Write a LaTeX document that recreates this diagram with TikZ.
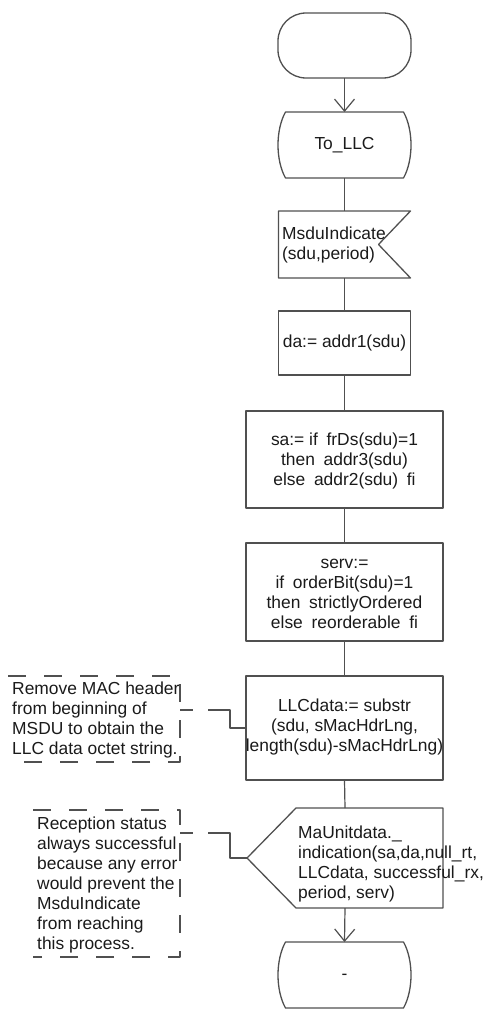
\documentclass[tikz,border=0pt]{standalone}
\usepackage{fontspec}
\setmainfont{Liberation Sans}
\usetikzlibrary{arrows.meta,calc}
\definecolor{lc}{HTML}{505050}
\definecolor{tc}{HTML}{1A1A1A}
\newcommand\wsp{\hskip 0.5em\relax}
\begin{document}
\begin{tikzpicture}[x=1pt,y=-1pt,line join=round,
  shp/.style={draw=lc, line width=1.3pt},
  hid/.style={inner sep=0pt, outer sep=0pt},
  txt/.style={inner sep=0pt, align=center, font=\fontsize{17.4}{20}\selectfont, text=tc},
  ltxt/.style={txt, align=left},
  con/.style={draw=lc, line width=1.2pt},
  arr/.style={con, -{Straight Barb[length=12pt,width=20pt,line width=1.2pt]}},
  cmt/.style={draw=lc, line width=1.2pt, dash pattern=on 18pt off 18pt},
  cmtcon/.style={draw=lc, line width=1.2pt, dash pattern=on 13pt off 15pt on 300pt off 0pt},
]
\useasboundingbox (0,0) rectangle (491,1014);

% start terminator
\node[hid, shp, rounded corners=28pt, minimum width=133pt, minimum height=65pt] (start) at (344.5,45.5) {};

% To_LLC
\node[hid, minimum width=118pt, minimum height=66pt] (tollc) at (344.5,145) {};
\draw[shp] (tollc.north west) -- (tollc.north east)
  .. controls ($(tollc.north east)+(10,18)$) and ($(tollc.south east)+(10,-18)$) .. (tollc.south east)
  -- (tollc.south west)
  .. controls ($(tollc.south west)+(-10,-18)$) and ($(tollc.north west)+(-10,18)$) .. (tollc.north west) -- cycle;
\node[txt] (tollct) at (tollc) {To\_LLC};

% MsduIndicate input
\node[hid, minimum width=132pt, minimum height=67pt] (msdu) at (344.5,244.5) {};
\draw[shp] (msdu.north west) -- (msdu.north east) -- ($(msdu.east)+(-32,0)$) -- (msdu.south east) -- (msdu.south west) -- cycle;
\node[ltxt, anchor=west] (msdut) at (282,245) {MsduIndicate\\(sdu,period)};

% da
\node[hid, shp, minimum width=132pt, minimum height=64pt] (da) at (344.5,343) {};
\node[txt] (dat) at (da) {da:= addr1(sdu)};

% sa
\node[hid, shp, minimum width=197pt, minimum height=97pt] (sa) at (344.5,459.5) {};
\node[txt] (sat) at (344.5,461) {sa:= if\wsp frDs(sdu)=1\\then\wsp addr3(sdu)\\else\wsp addr2(sdu)\wsp fi};

% serv
\node[hid, shp, minimum width=197pt, minimum height=98pt] (serv) at (344.5,592) {};
\node[txt] (servt) at (344.5,594) {serv:=\\if\wsp orderBit(sdu)=1\\then\wsp strictlyOrdered\\else\wsp reorderable\wsp fi};

% LLCdata
\node[hid, shp, minimum width=197pt, minimum height=104pt] (llc) at (344.5,728) {};
\node[txt] (llct) at (344.5,727) {LLCdata:= substr\\(sdu, sMacHdrLng,\\length(sdu)-sMacHdrLng)};

% MaUnitdata output
\node[hid, minimum width=196pt, minimum height=100pt] (maun) at (345,858) {};
\draw[shp] (maun.west) -- ($(maun.north west)+(49,0)$) -- (maun.north east) -- (maun.south east) -- ($(maun.south west)+(49,0)$) -- cycle;
\node[ltxt, anchor=west] (maunt) at (298,864) {MaUnitdata.\_\\indication(sa,da,null\_rt,\\LLCdata, successful\_rx,\\period, serv)};

% end
\node[hid, minimum width=118pt, minimum height=66pt] (fin) at (344.5,975) {};
\draw[shp] (fin.north west) -- (fin.north east)
  .. controls ($(fin.north east)+(10,18)$) and ($(fin.south east)+(10,-18)$) .. (fin.south east)
  -- (fin.south west)
  .. controls ($(fin.south west)+(-10,-18)$) and ($(fin.north west)+(-10,18)$) .. (fin.north west) -- cycle;
\node[txt] (fint) at (344.5,977) {-};

% connectors
\draw[arr] (start.south) -- (tollc.north);
\draw[con] (tollc.south) -- (msdu.north);
\draw[con] (msdu.south) -- (da.north);
\draw[con] (da.south) -- (sa.north);
\draw[con] (sa.south) -- (serv.north);
\draw[con] (serv.south) -- (llc.north);
\draw[con] (llc.south) -- (maun.north);
\draw[arr] (maun.south) -- (fin.north);

% comment 1
\node[hid, minimum width=172pt, minimum height=86pt] (c1) at (94,719) {};
\draw[cmt] (c1.north west) -- (c1.north east) -- (c1.south east) -- ($(c1.south west)+(7,0)$);
\node[ltxt, anchor=west] (c1t) at (12,720) {Remove MAC header\\from beginning of\\MSDU to obtain the\\LLC data octet string.};
\coordinate (c1p) at ($(c1.north east)+(0,34)$);
\draw[cmtcon] (c1p) -- ++(50,0) |- (llc.west);

% comment 2
\node[hid, minimum width=147pt, minimum height=147pt] (c2) at (106.5,883.5) {};
\draw[cmt] (c2.north west) -- (c2.north east) -- (c2.south east) -- (c2.south west);
\node[ltxt, anchor=west] (c2t) at (37,884.5) {Reception status\\always successful\\because any error\\would prevent the\\MsduIndicate\\from reaching\\this process.};
\coordinate (c2p) at ($(c2.north east)+(0,23)$);
\draw[cmtcon] (c2p) -- ++(50,0) |- (maun.west);
\end{tikzpicture}
\end{document}
